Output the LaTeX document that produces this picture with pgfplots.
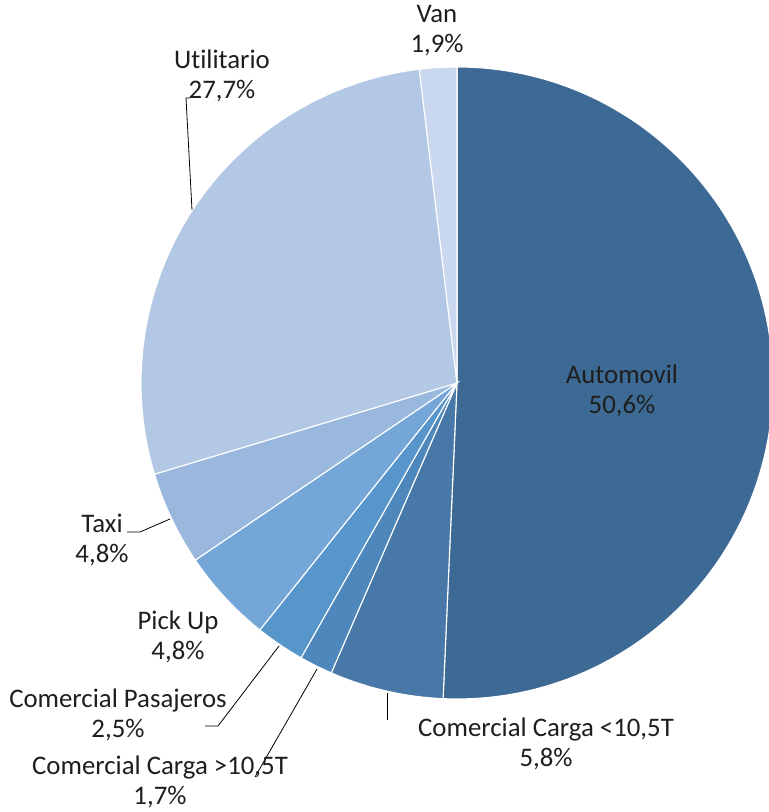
\documentclass[border=0pt]{standalone}
\usepackage{pgfplots}
\pgfplotsset{compat=1.18}
\usepackage{fontspec}
\setmainfont{Carlito}[Ligatures={NoCommon}]
\definecolor{cA}{HTML}{3D6A94}
\definecolor{cB}{HTML}{4878A8}
\definecolor{cC}{HTML}{4D87BB}
\definecolor{cD}{HTML}{5796CB}
\definecolor{cE}{HTML}{74A6D7}
\definecolor{cF}{HTML}{9AB8DE}
\definecolor{cG}{HTML}{B3C8E5}
\definecolor{cH}{HTML}{C9D8EE}
\definecolor{txt}{HTML}{1E1E1E}
\begin{document}
\begin{tikzpicture}
% shares (percent), clockwise from 12 o'clock
\def\vA{50.6}\def\vB{5.8}\def\vC{1.7}\def\vD{2.5}
\def\vE{4.8}\def\vF{4.8}\def\vG{27.7}\def\vH{1.9}
\pgfmathsetmacro\tot{\vA+\vB+\vC+\vD+\vE+\vF+\vG+\vH}
\pgfmathsetmacro\k{360/\tot}
\pgfmathsetmacro\aA{90}
\pgfmathsetmacro\aB{\aA-\k*\vA}
\pgfmathsetmacro\aC{\aB-\k*\vB}
\pgfmathsetmacro\aD{\aC-\k*\vC}
\pgfmathsetmacro\aE{\aD-\k*\vD}
\pgfmathsetmacro\aF{\aE-\k*\vE}
\pgfmathsetmacro\aG{\aF-\k*\vF}
\pgfmathsetmacro\aH{\aG-\k*\vG}
\pgfmathsetmacro\aI{\aH-\k*\vH}
\useasboundingbox (0,0) rectangle (769bp,812bp);
\begin{axis}[at={(0,0)}, anchor=south west, scale only axis,
  width=769bp, height=812bp, xmin=0, xmax=769, ymin=0, ymax=812,
  hide axis, clip=false]
\def\R{316bp}
\def\slice#1#2#3{\fill[#1, draw=white, line width=1.1bp] (axis cs:457,429) -- ++(#2:\R) arc[start angle=#2, end angle=#3, radius=\R] -- cycle;}
\slice{cA}{\aA}{\aB}
\slice{cB}{\aB}{\aC}
\slice{cC}{\aC}{\aD}
\slice{cD}{\aD}{\aE}
\slice{cE}{\aE}{\aF}
\slice{cF}{\aF}{\aG}
\slice{cG}{\aG}{\aH}
\slice{cH}{\aH}{\aI}
% leader lines
\draw[black, line width=0.8bp] (axis cs:190,714) -- (axis cs:186,714) -- (axis cs:192,602);
\draw[black, line width=0.8bp] (axis cs:127,280) -- (axis cs:140,280) -- (axis cs:170,293);
\draw[black, line width=0.8bp] (axis cs:205,86) -- (axis cs:218,86) -- (axis cs:279,166);
\draw[black, line width=0.8bp] (axis cs:255,35) -- (axis cs:317,143);
\draw[black, line width=0.8bp] (axis cs:387,119) -- (axis cs:387,92);
% labels
\tikzset{lab/.style={align=center, text=txt, inner sep=0pt, font=\fontsize{26.8bp}{30bp}\selectfont}}
\node[lab] at (axis cs:437,781) {Van\\1,9\%};
\node[lab] at (axis cs:222,736) {Utilitario\\27,7\%};
\node[lab] at (axis cs:622,421) {Automovil\\50,6\%};
\node[lab] at (axis cs:102,272) {Taxi\\4,8\%};
\node[lab] at (axis cs:178,175) {Pick Up\\4,8\%};
\node[lab] at (axis cs:118,97) {Comercial Pasajeros\\2,5\%};
\node[lab] at (axis cs:160,30) {Comercial Carga >10,5T\\1,7\%};
\node[lab] at (axis cs:546,68) {Comercial Carga <10,5T\\5,8\%};
\end{axis}
\end{tikzpicture}
\end{document}
